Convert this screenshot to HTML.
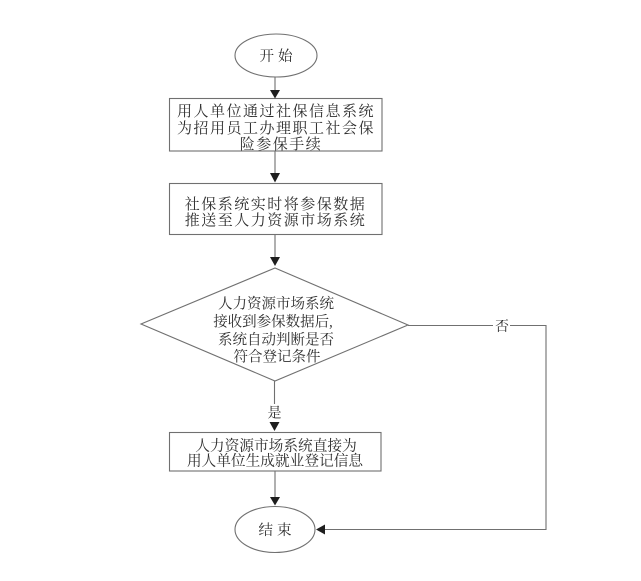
<!DOCTYPE html>
<html>
<head>
<meta charset="utf-8">
<style>
html,body{margin:0;padding:0;background:#fff;}
svg{display:block;}
text{font-family:"Liberation Serif","Noto Serif CJK SC","Noto Sans CJK SC",serif;fill:#2e2e2e;}
</style>
</head>
<body>
<svg width="641" height="581" viewBox="0 0 641 581" xmlns="http://www.w3.org/2000/svg">
  <g fill="none" stroke="#707070" stroke-width="1.1">
    <!-- start ellipse -->
    <ellipse cx="276" cy="55.5" rx="41" ry="21.5"/>
    <!-- box1 -->
    <rect x="169.5" y="98.5" width="212.5" height="52.5"/>
    <!-- box2 -->
    <rect x="169.5" y="183.5" width="212.5" height="51"/>
    <!-- diamond -->
    <polygon points="275,268 408,325 275,381 141,324"/>
    <!-- box3 -->
    <rect x="169.5" y="432.5" width="211.5" height="38.5"/>
    <!-- end ellipse -->
    <ellipse cx="275" cy="529.5" rx="40" ry="23"/>
    <!-- connectors -->
    <line x1="275" y1="77" x2="275" y2="91"/>
    <line x1="275" y1="151" x2="275" y2="173"/>
    <line x1="275" y1="235" x2="275" y2="258"/>
    <line x1="274.5" y1="381" x2="274.5" y2="404"/>
    <line x1="275" y1="471" x2="275" y2="498"/>
    <!-- no branch -->
    <polyline points="408,325.5 493,325.5"/>
    <polyline points="510,325.5 546,325.5 546,529.5 324,529.5"/>
  </g>
  <g fill="#1e1e1e" stroke="none">
    <polygon points="270,90 280,90 275,98.5"/>
    <polygon points="270,173 280,173 275,182.5"/>
    <polygon points="270,257 280,257 275,266"/>
    <polygon points="269.5,422 279.5,422 274.5,431"/>
    <polygon points="270,497 280,497 275,505.5"/>
    <polygon points="316,529.5 325,524.5 325,534.5"/>
  </g>
  <!-- texts -->
  <g text-anchor="middle">
    <text x="278" y="61" font-size="14.5" letter-spacing="4">开始</text>

    <text x="276" y="116" font-size="15" letter-spacing="1.5">用人单位通过社保信息系统</text>
    <text x="276" y="133" font-size="15" letter-spacing="1.5">为招用员工办理职工社会保</text>
    <text x="281" y="149" font-size="15" letter-spacing="1.5">险参保手续</text>

    <text x="275.5" y="209" font-size="15" letter-spacing="1.5">社保系统实时将参保数据</text>
    <text x="275.5" y="225" font-size="15" letter-spacing="1.5">推送至人力资源市场系统</text>

    <text x="276" y="308.5" font-size="14.5">人力资源市场系统</text>
    <text x="273" y="326.5" font-size="14.5">接收到参保数据后,</text>
    <text x="276" y="344.5" font-size="14.5">系统自动判断是否</text>
    <text x="277" y="361.5" font-size="14.5">符合登记条件</text>

    <text x="274.5" y="417.5" font-size="14">是</text>
    <text x="502" y="331" font-size="14">否</text>

    <text x="276" y="450.5" font-size="14.7">人力资源市场系统直接为</text>
    <text x="275" y="465.5" font-size="14.7">用人单位生成就业登记信息</text>

    <text x="277" y="535" font-size="14.5" letter-spacing="4">结束</text>
  </g>
</svg>
</body>
</html>
